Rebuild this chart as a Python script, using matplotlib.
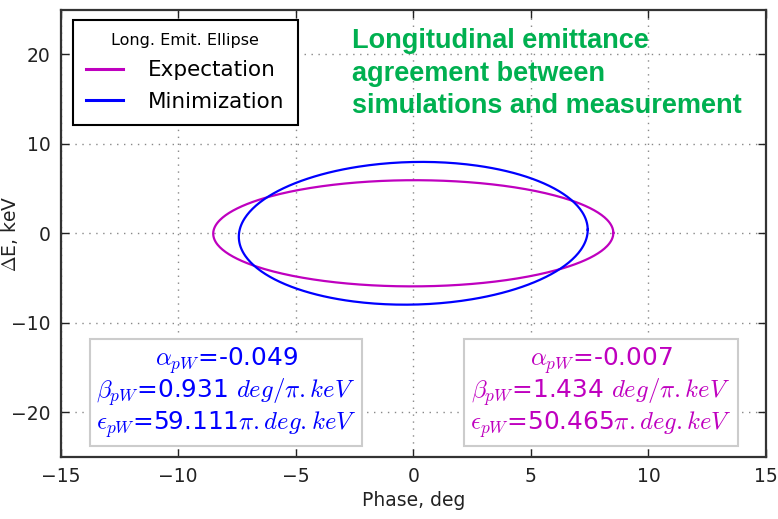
import numpy as np
import matplotlib.pyplot as plt

plt.rcParams['mathtext.fontset'] = 'cm'
plt.rcParams['font.family'] = 'DejaVu Sans'

# Twiss parameters of the two longitudinal ellipses
labels = ['Expectation', 'Minimization']
colors = ['#bf00bf', '#0000ff']
alphas = [-0.007, -0.049]
betas = [1.434, 0.931]
emits = [50.465, 59.111]

fig = plt.figure(figsize=(7.78, 5.19), dpi=100)
ax = fig.add_axes([0.0778, 0.1195, 0.9068, 0.862])

t = np.linspace(0, 2 * np.pi, 400)
for lab, c, a, b, e in zip(labels, colors, alphas, betas, emits):
    x = np.sqrt(e * b) * np.cos(t)
    y = -np.sqrt(e / b) * (a * np.cos(t) + np.sin(t))
    ax.plot(x, y, color=c, lw=1.6, label=lab)

ax.set_xlim(-15, 15)
ax.set_ylim(-25, 25)
ax.set_xticks(np.arange(-15, 16, 5))
ax.set_yticks(np.arange(-20, 21, 10))
ax.grid(True, color='#888888', linestyle=(0, (1, 4)), linewidth=1.0)
ax.tick_params(direction='in', length=6, width=1, labelsize=13.5,
               top=True, right=True, pad=7, colors='#222222')
for s in ax.spines.values():
    s.set_linewidth(1.6)
    s.set_color('#333333')
ax.set_xlabel('Phase, deg', fontsize=13.5, color='#222222', labelpad=4)
ax.set_ylabel(r'$\Delta$E, keV', fontsize=13.5, color='#222222')
ax.yaxis.set_label_coords(-0.058, 0.5)

leg = ax.legend(title='Long. Emit. Ellipse', loc='upper left',
                bbox_to_anchor=(0.0177, 0.976), borderaxespad=0,
                fontsize=15.5, title_fontsize=11.5, fancybox=False,
                handlelength=1.7, handletextpad=1.2, labelspacing=0.55,
                borderpad=0.6, framealpha=1)
leg.get_frame().set_edgecolor('black')
leg.get_frame().set_linewidth(1.5)
for h in leg.legend_handles:
    h.set_linewidth(2.2)

# parameter boxes
boxes = [(0.2346, 0.144, 1), (0.766, 0.144, 0)]
for bx, by, i in boxes:
    txt = (r'$\alpha_{pW}$=%.3f' % alphas[i] + '\n'
           + r'$\beta_{pW}$=%.3f $deg/\pi.keV$' % betas[i] + '\n'
           + r'$\epsilon_{pW}$=%.3f$\pi.deg.keV$' % emits[i])
    ax.text(bx, by, txt, transform=ax.transAxes, color=colors[i],
            fontsize=17.8, ha='center', va='center', linespacing=1.05,
            bbox=dict(boxstyle='square,pad=0.25', fc='white', ec='#cccccc', lw=1.5))

fig.text(0.452, 0.946, 'Longitudinal emittance\nagreement between\nsimulations and measurement',
         color='#00b050', fontsize=19.5, fontweight='bold', family='Liberation Sans',
         ha='left', va='top', linespacing=1.33)

fig.savefig('out.png', dpi=100, facecolor='white')
